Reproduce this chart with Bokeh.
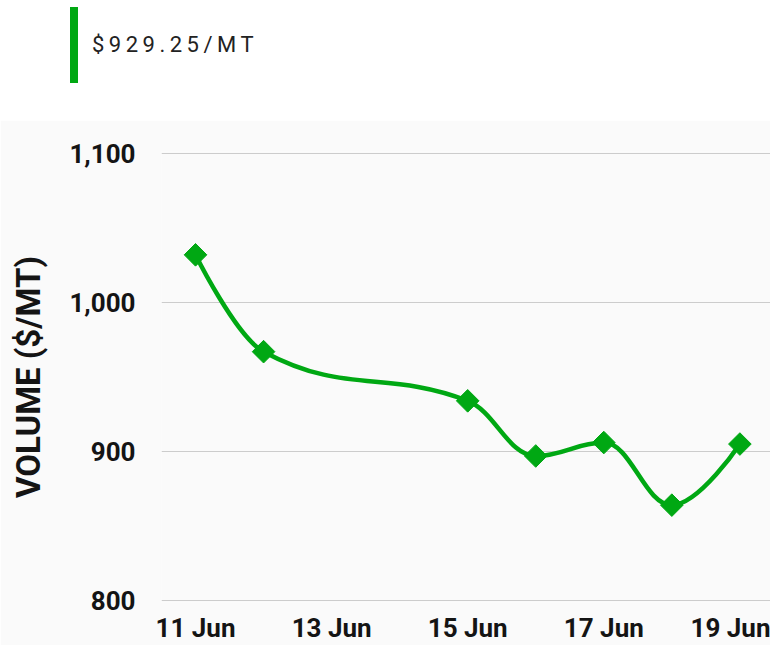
import math
from datetime import datetime
from bokeh.plotting import figure
from bokeh.layouts import column
from bokeh.models import Range1d, FixedTicker, DatetimeTickFormatter, NumeralTickFormatter, Div
from bokeh.embed import file_html
from bokeh.resources import INLINE

# ---- data ----
dates = ["2024-06-11", "2024-06-12", "2024-06-15", "2024-06-16", "2024-06-17", "2024-06-18", "2024-06-19"]
prices = [1032, 967, 934, 897, 906, 864, 905]
x_tick_dates = ["2024-06-11", "2024-06-13", "2024-06-15", "2024-06-17", "2024-06-19"]
y_ticks = [800, 900, 1000, 1100]
headline = "$929.25/MT"
y_title = "VOLUME ($/MT)"

GREEN = "#00a813"
TEXT = "#141414"
BG = "#fafafa"

DAY = 86400000.0
def to_ms(s):
    return (datetime.strptime(s, "%Y-%m-%d") - datetime(1970, 1, 1)).total_seconds() * 1000.0

xs = [to_ms(d) / DAY for d in dates]  # in days
ys = prices

# smoothing control points (spline through the data points)
def spline_controls(xs, ys, s=1.5):
    n = len(xs); d = s + 1
    lc, rc = [], []
    for i in range(n):
        x, y = xs[i], ys[i]
        if 0 < i < n - 1:
            lx, ly = xs[i - 1], ys[i - 1]
            nx, ny = xs[i + 1], ys[i + 1]
            lcx = (s * x + lx) / d; lcy = (s * y + ly) / d
            rcx = (s * x + nx) / d; rcy = (s * y + ny) / d
            corr = ((rcy - lcy) * (rcx - x)) / (rcx - lcx) + y - rcy
            lcy += corr; rcy += corr
            if lcy > ly and lcy > y:
                lcy = max(ly, y); rcy = 2 * y - lcy
            elif lcy < ly and lcy < y:
                lcy = min(ly, y); rcy = 2 * y - lcy
            if rcy > ny and rcy > y:
                rcy = max(ny, y); lcy = 2 * y - rcy
            elif rcy < ny and rcy < y:
                rcy = min(ny, y); lcy = 2 * y - rcy
        else:
            lcx, lcy, rcx, rcy = x, y, x, y
        lc.append((lcx, lcy)); rc.append((rcx, rcy))
    return lc, rc

lc, rc = spline_controls(xs, ys)

W = 770

# ---- header ----
header_html = (
    '<div style="margin-left:70px; margin-top:7px; height:76px; border-left:8px solid %s; '
    'padding-left:14px; display:flex; align-items:center; font-family:Roboto, sans-serif; '
    'font-size:22px; font-weight:400; letter-spacing:4.5px; color:#222222;">%s</div>'
) % (GREEN, headline)
h = Div(text=header_html, width=W, height=120, margin=0)

# ---- chart ----
x_start = (xs[0] - 0.5) * DAY
x_end = (xs[-1] + 0.45) * DAY
p = figure(width=W, height=525, output_backend="svg", toolbar_location=None,
           x_axis_type="datetime",
           x_range=Range1d(x_start, x_end), y_range=Range1d(798.66, 1101.34),
           min_border_left=161, min_border_right=0, min_border_top=31, min_border_bottom=30,
           background_fill_color=BG, border_fill_color=BG, outline_line_color=None)

n = len(xs)
p.bezier(x0=[xs[i - 1] * DAY for i in range(1, n)], y0=[ys[i - 1] for i in range(1, n)],
         x1=[xs[i] * DAY for i in range(1, n)], y1=[ys[i] for i in range(1, n)],
         cx0=[rc[i - 1][0] * DAY for i in range(1, n)], cy0=[rc[i - 1][1] for i in range(1, n)],
         cx1=[lc[i][0] * DAY for i in range(1, n)], cy1=[lc[i][1] for i in range(1, n)],
         line_color=GREEN, line_width=4.5)
p.scatter([x * DAY for x in xs], ys, marker="square", size=16, angle=math.pi / 4,
          fill_color=GREEN, line_color=GREEN)

p.xaxis.ticker = FixedTicker(ticks=[to_ms(d) for d in x_tick_dates])
p.xaxis.formatter = DatetimeTickFormatter(days="%d %b", months="%d %b", hours="%d %b")
p.yaxis.ticker = FixedTicker(ticks=y_ticks)
p.yaxis.formatter = NumeralTickFormatter(format="0,0")

for ax in (p.xaxis, p.yaxis):
    ax.axis_line_color = None
    ax.major_tick_line_color = None
    ax.minor_tick_line_color = None
    ax.major_label_text_font = "Roboto"
    ax.major_label_text_font_style = "bold"
    ax.major_label_text_font_size = "26px"
    ax.major_label_text_color = TEXT

p.yaxis.major_label_standoff = 20
p.xaxis.major_label_standoff = 4
p.yaxis.axis_label = y_title
p.yaxis.axis_label_text_font = "Roboto"
p.yaxis.axis_label_text_font_style = "bold"
p.yaxis.axis_label_text_font_size = "33px"
p.yaxis.axis_label_text_color = TEXT
p.yaxis.axis_label_standoff = 18

p.xgrid.grid_line_color = None
p.ygrid.grid_line_color = "#cccccc"
p.ygrid.grid_line_width = 1

layout = column(h, p, spacing=0)
open("out.html", "w").write(file_html(layout, INLINE))
